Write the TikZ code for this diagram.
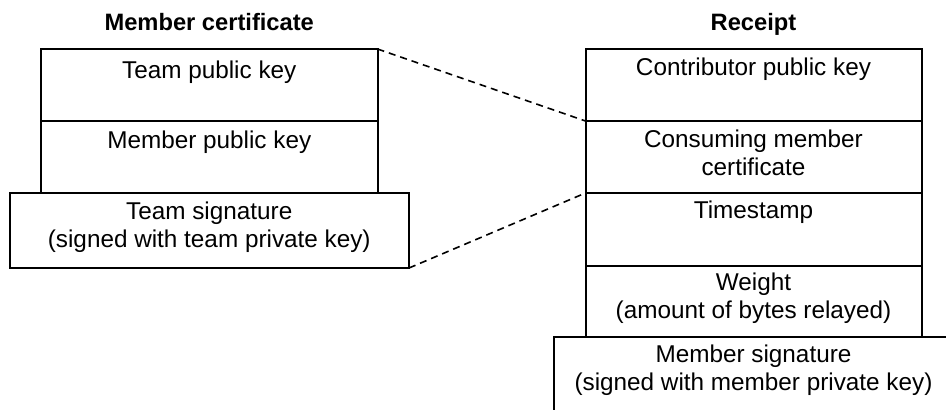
\documentclass[tikz,border=0pt]{standalone}
\usepackage{fontspec}
\setmainfont{Liberation Sans}
\begin{document}
\begin{tikzpicture}[x=1pt,y=-1pt,
  box/.style={draw=black, line width=2pt, rectangle, inner sep=0pt, outer sep=0pt, anchor=north west},
  txt/.style={anchor=base, align=center, font=\fontsize{24.3}{28}\selectfont, inner sep=0pt},
  ttl/.style={anchor=base, font=\fontsize{23.7}{28}\selectfont\bfseries, inner sep=0pt},
  link/.style={dash pattern=on 7pt off 5pt, line width=1.6pt}]
\useasboundingbox (0,0) rectangle (946,410);
\clip (0,0) rectangle (946,410);
\fill[white] (0,0) rectangle (946,410);
% titles
\node[ttl] (ltitle) at (209.25,30) {Member certificate};
\node[ttl] (rtitle) at (753.5,30) {Receipt};
% member certificate
\node[box, minimum width=336.5pt, minimum height=72pt] (tpk) at (41,49) {};
\node[box, minimum width=336.5pt, minimum height=71.5pt] (mpk) at (41,121) {};
\node[box, minimum width=399.5pt, minimum height=75.5pt] (tsig) at (9.5,192.5) {};
\node[txt] (tpkT) at ([yshift=-29pt]tpk.north) {Team public key};
\node[txt] (mpkT) at ([yshift=-27.5pt]mpk.north) {Member public key};
\node[txt] (tsigT) at ([yshift=-55pt]tsig.north) {Team signature\\(signed with team private key)};
% receipt
\node[box, minimum width=336pt, minimum height=72pt] (cpk) at (585.5,49) {};
\node[box, minimum width=336pt, minimum height=72pt] (cmc) at (585.5,121) {};
\node[box, minimum width=336pt, minimum height=72.5pt] (ts) at (585.5,193) {};
\node[box, minimum width=336pt, minimum height=71.5pt] (wt) at (585.5,265.5) {};
\node[box, minimum width=400pt, minimum height=75.5pt] (msig) at (553.5,337) {};
\node[txt] (cpkT) at ([yshift=-26pt]cpk.north) {Contributor public key};
\node[txt] (cmcT) at ([yshift=-54pt]cmc.north) {Consuming member\\certificate};
\node[txt] (tsT) at ([yshift=-25.5pt]ts.north) {Timestamp};
\node[txt] (wtT) at ([yshift=-53pt]wt.north) {Weight\\(amount of bytes relayed)};
\node[txt] (msigT) at ([yshift=-53pt]msig.north) {Member signature\\(signed with member private key)};
% links
\draw[link] (tpk.north east) -- (cmc.north west);
\draw[link] (tsig.south east) -- (ts.north west);
\end{tikzpicture}
\end{document}
